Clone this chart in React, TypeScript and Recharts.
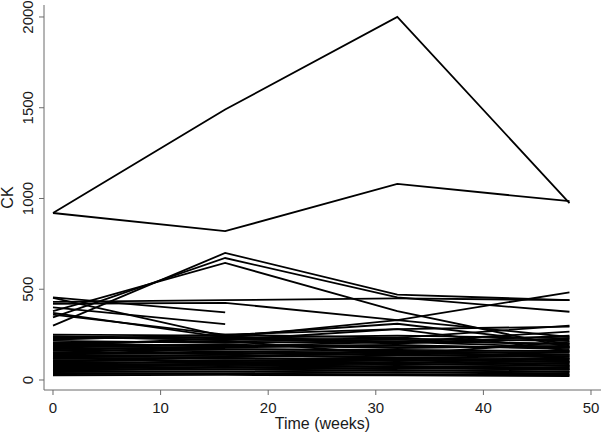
import React from "react";
import { LineChart, Line, XAxis, YAxis } from "recharts";

const times = [0, 16, 32, 48];
const xTicks = [0, 10, 20, 30, 40, 50];
const yTicks = [0, 500, 1000, 1500, 2000];

// CK per subject at weeks 0, 16, 32, 48 (null = missing)
const highSubjects: (number | null)[][] = [
  [920, 1490, 2000, 975],
  [920, 820, 1080, 985],
];

const midSubjects: (number | null)[][] = [
  [300, 700, 470, 440],
  [345, 672, 455, 376],
  [380, 645, 380, 180],
  [430, 440, 450, 440],
  [420, 425, 330, 483],
  [455, 373, null, null],
  [400, 308, null, null],
  [370, 235, 330, 237],
  [360, 250, 280, 294],
  [453, 240, 210, 266],
];

const lowSubjects: (number | null)[][] = [
  [240, 232, 245, 230],
  [236, 222, 228, 215],
  [228, 238, 205, 225],
  [215, 205, 212, 200],
  [205, 212, 222, 196],
  [198, 190, 180, 185],
  [192, 186, 194, 170],
  [184, 196, 176, 188],
  [178, 170, 166, 160],
  [172, 180, 188, 178],
  [166, 158, 150, 155],
  [160, 168, 162, 140],
  [152, 146, 156, 150],
  [146, 150, 140, 132],
  [140, 132, 146, 138],
  [134, 138, 124, 118],
  [128, 126, 134, 128],
  [122, 116, 120, 108],
  [116, 120, 108, 115],
  [110, 104, 112, 98],
  [104, 108, 96, 102],
  [98, 92, 100, 88],
  [92, 96, 86, 92],
  [86, 82, 90, 78],
  [80, 84, 74, 80],
  [74, 70, 78, 66],
  [68, 72, 62, 70],
  [62, 58, 66, 56],
  [56, 60, 50, 58],
  [50, 46, 54, 44],
  [44, 48, 40, 46],
  [38, 36, 42, 34],
  [32, 34, 30, 28],
  [26, 28, 26, 22],
  [250, 245, 310, 200],
  [240, 220, 280, 160],
  [222, 250, 232, 300],
  [190, 230, 200, 245],
  [150, 185, 210, 180],
  [100, 126, 160, 120],
  [200, 215, 140, 210],
  [60, 90, 112, 76],
  [130, 90, 70, 60],
  [175, 140, 120, 100],
  [190, 175, null, null],
  [120, 100, 90, null],
  [50, 70, 60, null],
];

const subjects = [...highSubjects, ...midSubjects, ...lowSubjects];

const data = times.map((t, i) => {
  const row: Record<string, number | null> = { t };
  subjects.forEach((s, j) => {
    row["s" + j] = s[i];
  });
  return row;
});

const FONT = "'Liberation Sans', Arial, sans-serif";
const AXIS = "#6a6a6a";
const TEXT = "#1a1a1a";

const YTick = (props: any) => {
  const { x, y, payload } = props;
  return (
    <text
      x={x}
      y={y}
      transform={`rotate(-90, ${x}, ${y})`}
      textAnchor="middle"
      fontFamily={FONT}
      fontSize={15}
      fill={TEXT}
    >
      {payload.value}
    </text>
  );
};

const XTick = (props: any) => {
  const { x, y, payload } = props;
  return (
    <text
      x={x}
      y={y}
      dy="0.71em"
      textAnchor="middle"
      fontFamily={FONT}
      fontSize={15}
      fill={TEXT}
    >
      {payload.value}
    </text>
  );
};

export default function App() {
  return (
    <div style={{ position: "absolute", left: 0, top: 0, background: "#fff" }}>
      <LineChart
        width={601}
        height={433}
        data={data}
        margin={{ top: 5, right: 0, bottom: 0, left: 0 }}
      >
        <XAxis
          dataKey="t"
          type="number"
          domain={[-0.836, 50.93]}
          allowDataOverflow
          ticks={xTicks}
          height={43}
          tickSize={5}
          tickMargin={7}
          stroke={AXIS}
          tick={<XTick />}
          label={{
            content: (p: any) => {
              const vb = p.viewBox;
              return (
                <text
                  x={vb.x + vb.width / 2}
                  y={vb.y + 39}
                  textAnchor="middle"
                  fontFamily={FONT}
                  fontSize={16}
                  fill={TEXT}
                >
                  Time (weeks)
                </text>
              );
            },
          }}
        />
        <YAxis
          type="number"
          domain={[-55.1, 2066]}
          allowDataOverflow
          ticks={yTicks}
          width={44}
          tickSize={5}
          tickMargin={6}
          stroke={AXIS}
          tick={<YTick />}
          label={{
            content: (p: any) => {
              const vb = p.viewBox;
              const cx = vb.x + 13;
              const cy = vb.y + vb.height / 2;
              return (
                <text
                  x={cx}
                  y={cy}
                  transform={`rotate(-90, ${cx}, ${cy})`}
                  textAnchor="middle"
                  fontFamily={FONT}
                  fontSize={16}
                  fill={TEXT}
                >
                  CK
                </text>
              );
            },
          }}
        />
        {subjects.map((_, j) => (
          <Line
            key={j}
            dataKey={"s" + j}
            stroke="#000"
            strokeWidth={1.8}
            dot={false}
            activeDot={false}
            isAnimationActive={false}
            connectNulls={false}
            type="linear"
          />
        ))}
      </LineChart>
    </div>
  );
}
